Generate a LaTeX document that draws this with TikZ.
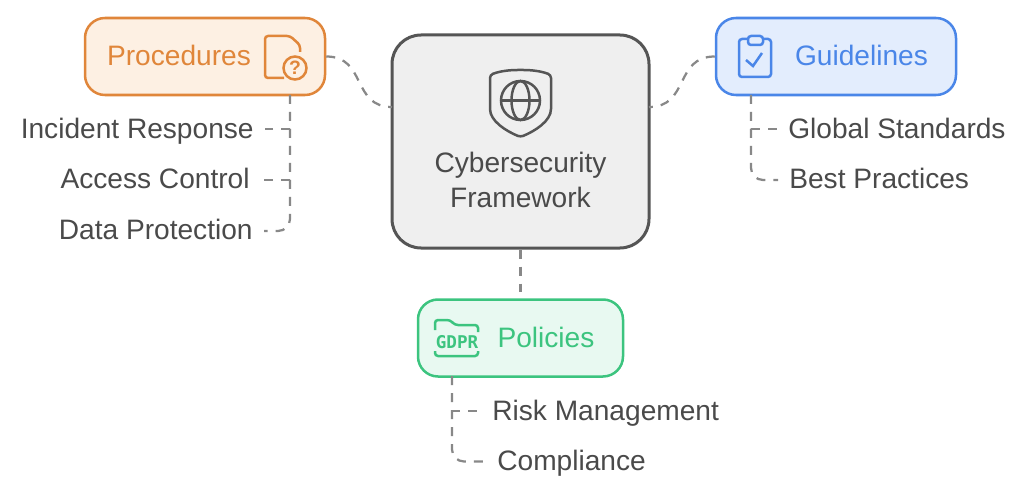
\documentclass[tikz,border=0pt]{standalone}
\usepackage{fontspec}
\setmainfont{Liberation Sans}
\newfontfamily\gdprfont{DejaVu Sans Mono}
\usetikzlibrary{positioning, calc}

\definecolor{inkgray}{HTML}{4A4A4A}
\definecolor{linkgray}{HTML}{888888}
\definecolor{coreline}{HTML}{555555}
\definecolor{corefill}{HTML}{EFEFEF}
\definecolor{procline}{HTML}{E0863A}
\definecolor{procfill}{HTML}{FDF0E3}
\definecolor{guideline}{HTML}{4A86E8}
\definecolor{guidefill}{HTML}{E3EDFD}
\definecolor{policyline}{HTML}{3CC47F}
\definecolor{policyfill}{HTML}{E8F9F1}

\begin{document}
\begin{tikzpicture}[
    groupbox/.style={draw, rectangle, rounded corners=0.4cm, line width=0.05cm, minimum height=1.54cm},
    corebox/.style={draw=coreline, fill=corefill, rectangle, rounded corners=0.58cm, line width=0.06cm, minimum width=5.14cm, minimum height=4.26cm},
    grouptxt/.style={inner sep=0pt, text height=0.36cm, text depth=0pt, font=\fontsize{16}{18}\selectfont},
    itemtxt/.style={inner sep=0.22cm, text height=0.36cm, text depth=0pt, text=inkgray, font=\fontsize{16}{18}\selectfont},
    link/.style={linkgray, line width=0.045cm, dash pattern=on 0.18cm off 0.16cm},
    icon/.style={line width=0.05cm, rounded corners=0.06cm}
]

\useasboundingbox (0, 0) rectangle (20.48, 9.92);

% Centre block
\node[corebox] (core) at (10.41, 7.09) {};
\node[inner sep=0pt, text=inkgray, align=center, font=\fontsize{16}{19.5}\selectfont] (coretxt) at (10.41, 6.32) {Cybersecurity\\Framework};
\coordinate (coreleft) at (7.84, 7.78);
\coordinate (coreright) at (12.98, 7.78);

% Centre icon
\draw[icon, coreline] (9.80, 8.42) .. controls (10.0, 8.50) and (10.2, 8.52) .. (10.41, 8.52) .. controls (10.62, 8.52) and (10.82, 8.50) .. (11.02, 8.42) -- (11.02, 7.80) .. controls (11.02, 7.50) and (10.70, 7.30) .. (10.41, 7.18) .. controls (10.12, 7.30) and (9.80, 7.50) .. (9.80, 7.80) -- cycle;
\draw[icon, coreline] (10.41, 7.91) circle (0.39cm);
\draw[icon, coreline] (10.41, 7.91) ellipse (0.18cm and 0.39cm);
\draw[icon, coreline] (10.02, 7.91) -- (10.80, 7.91);

% Procedures
\node[groupbox, draw=procline, fill=procfill, minimum width=4.8cm] (procbox) at (4.10, 8.79) {};
\node[grouptxt, text=procline] (proctxt) at (3.58, 8.79) {Procedures};
\draw[icon, procline] (6.00, 8.88) -- (6.00, 9.02) -- (5.80, 9.20) -- (5.30, 9.20) -- (5.30, 8.36) -- (5.68, 8.36);
\node[draw=procline, fill=procfill, circle, line width=0.05cm, minimum size=0.46cm, inner sep=0pt, text=procline, font=\fontsize{11}{11}\selectfont\bfseries] (procmark) at (5.90, 8.56) {?};

\node[itemtxt, anchor=east] (incident) at (5.30, 7.34) {Incident Response};
\node[itemtxt, anchor=east] (access) at (5.22, 6.32) {Access Control};
\node[itemtxt, anchor=east] (dataprot) at (5.28, 5.30) {Data Protection};
\coordinate (proctrunk) at (5.80, 8.02);
\draw[link] (proctrunk) |- (incident.east);
\draw[link] (proctrunk) |- (access.east);
\draw[link, rounded corners=0.24cm] (proctrunk) |- (dataprot.east);
\draw[link] (procbox.east) to[out=0, in=180, looseness=1.25] (coreleft);

% Guidelines
\node[groupbox, draw=guideline, fill=guidefill, minimum width=4.8cm] (guidebox) at (16.72, 8.79) {};
\node[grouptxt, text=guideline] (guidetxt) at (17.23, 8.79) {Guidelines};
\draw[icon, guideline] (14.78, 8.38) rectangle (15.42, 9.14);
\draw[icon, guideline, fill=guidefill] (14.96, 9.02) rectangle (15.26, 9.20);
\draw[guideline, line width=0.05cm] (14.92, 8.72) -- (15.06, 8.60) -- (15.24, 8.86);

\node[itemtxt, anchor=west] (globalstd) at (15.54, 7.34) {Global Standards};
\node[itemtxt, anchor=west] (bestprac) at (15.56, 6.32) {Best Practices};
\coordinate (guidetrunk) at (15.02, 8.02);
\draw[link] (guidetrunk) |- (globalstd.west);
\draw[link, rounded corners=0.24cm] (guidetrunk) |- (bestprac.west);
\draw[link] (guidebox.west) to[out=180, in=0, looseness=1.25] (coreright);

% Policies
\node[groupbox, draw=policyline, fill=policyfill, minimum width=4.1cm] (policybox) at (10.41, 3.16) {};
\node[grouptxt, text=policyline] (policytxt) at (10.92, 3.16) {Policies};
\draw[icon, policyline] (8.70, 3.32) -- (8.70, 3.52) -- (9.00, 3.52) -- (9.10, 3.42) -- (9.56, 3.42) -- (9.56, 3.28);
\draw[icon, policyline] (8.70, 2.90) -- (8.70, 2.80) -- (9.56, 2.80) -- (9.56, 2.90);
\node[inner sep=0pt, text=policyline, font=\gdprfont\fontsize{10}{10}\selectfont\bfseries] (gdprtxt) at (9.14, 3.08) {GDPR};

\node[itemtxt, anchor=west] (riskmgmt) at (9.62, 1.70) {Risk Management};
\node[itemtxt, anchor=west] (compliance) at (9.72, 0.69) {Compliance};
\coordinate (policytrunk) at (9.04, 2.40);
\draw[link] (policytrunk) |- (riskmgmt.west);
\draw[link, rounded corners=0.24cm] (policytrunk) |- (compliance.west);
\draw[link] (core.south) -- (policybox.north);

\end{tikzpicture}
\end{document}
